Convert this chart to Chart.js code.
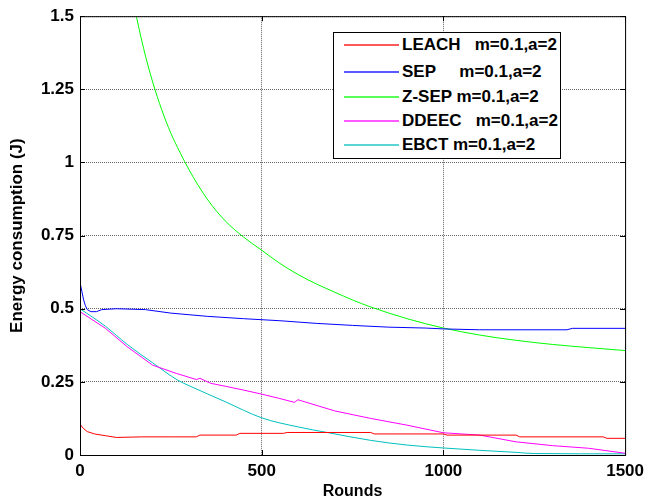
<!DOCTYPE html>
<html>
<head>
<meta charset="utf-8">
<script src="https://cdn.jsdelivr.net/npm/chart.js@4.4.0/dist/chart.umd.min.js"></script>
<style>
    body { margin: 0; background: #fff; }
    #wrap { position: relative; width: 650px; height: 501px; }
    #customLegend {
        position: absolute; left: 333px; top: 32px; width: 226px; height: 125px;
        border: 1px solid #000; background: #fff;
        font: bold 17px "Liberation Sans", Arial, sans-serif;
    }
    .legend-item { position: absolute; left: 0; width: 100%; height: 20px; }
    .legend-color { position: absolute; left: 10px; top: 9px; width: 55px; height: 2px; opacity: 0.65; }
    .legend-text { position: absolute; left: 68px; top: 0; line-height: 20px; white-space: pre; color: #000; }
</style>
</head>
<body>
<div id="wrap">
    <canvas id="energyChart" width="650" height="501"></canvas>
    <div id="customLegend"></div>
</div>
<script>
// Axes
const xTicks = [0, 500, 1000, 1500];
const xTickLabels = ['0', '500', '1000', '1500'];
const yTicks = [0, 0.25, 0.5, 0.75, 1, 1.25, 1.5];
const yTickLabels = ['0', '0.25', '0.5', '0.75', '1', '1.25', '1.5'];

// Series
const leachRounds = [0, 10, 20, 40, 70, 100, 170, 250, 320, 330, 430, 440, 560, 570, 800, 810, 1000, 1010, 1200, 1210, 1440, 1450, 1500];
const leachEnergy = [0.105, 0.09, 0.08, 0.072, 0.066, 0.06, 0.062, 0.062, 0.062, 0.068, 0.068, 0.074, 0.074, 0.077, 0.077, 0.072, 0.072, 0.068, 0.068, 0.062, 0.062, 0.057, 0.057];

const sepRounds = [0, 5, 10, 15, 20, 30, 45, 60, 100, 180, 250, 350, 450, 550, 650, 750, 850, 950, 1000, 1100, 1340, 1355, 1500];
const sepEnergy = [0.59, 0.56, 0.53, 0.51, 0.497, 0.49, 0.49, 0.497, 0.5, 0.497, 0.485, 0.474, 0.466, 0.459, 0.45, 0.443, 0.437, 0.434, 0.431, 0.428, 0.428, 0.433, 0.433];

const zsepRounds = [0, 25, 50, 75, 100, 125, 150, 175, 200, 225, 250, 275, 300, 350, 400, 450, 500, 550, 600, 650, 700, 750, 800, 900, 1000, 1100, 1200, 1300, 1400, 1500];
const zsepEnergy = [3.2, 2.7, 2.33, 2.08, 1.87, 1.69, 1.53, 1.39, 1.275, 1.18, 1.1, 1.035, 0.975, 0.875, 0.8, 0.745, 0.7, 0.655, 0.617, 0.585, 0.557, 0.53, 0.506, 0.466, 0.434, 0.41, 0.392, 0.378, 0.367, 0.357];

const ddeecRounds = [0, 70, 130, 200, 265, 320, 330, 360, 400, 450, 500, 550, 590, 600, 610, 700, 800, 900, 1000, 1100, 1200, 1300, 1400, 1500];
const ddeecEnergy = [0.49, 0.433, 0.37, 0.307, 0.279, 0.258, 0.262, 0.245, 0.235, 0.222, 0.208, 0.193, 0.18, 0.189, 0.185, 0.151, 0.125, 0.102, 0.076, 0.068, 0.045, 0.032, 0.023, 0.006];

const ebctRounds = [0, 70, 130, 200, 270, 300, 400, 500, 600, 680, 800, 900, 1000, 1100, 1200, 1250, 1500];
const ebctEnergy = [0.5, 0.44, 0.378, 0.315, 0.255, 0.237, 0.182, 0.127, 0.096, 0.077, 0.05, 0.034, 0.024, 0.016, 0.009, 0.005, 0.004];

const seriesNames = ['LEACH   m=0.1,a=2', 'SEP     m=0.1,a=2', 'Z-SEP m=0.1,a=2', 'DDEEC   m=0.1,a=2', 'EBCT m=0.1,a=2'];
const seriesColors = ['#ff0000', '#0000ff', '#00ff00', '#ff00ff', '#00bfbf'];

const fontFamily = '"Liberation Sans", Arial, sans-serif';

function toPoints(rounds, energy) {
    return rounds.map((r, i) => ({ x: r, y: energy[i] }));
}

const allSeries = [
    toPoints(leachRounds, leachEnergy),
    toPoints(sepRounds, sepEnergy),
    toPoints(zsepRounds, zsepEnergy),
    toPoints(ddeecRounds, ddeecEnergy),
    toPoints(ebctRounds, ebctEnergy)
];
const smooth = [false, false, true, false, true];

// cadre noir + petites graduations intérieures, façon MATLAB
const axesBox = {
    id: 'axesBox',
    afterDraw(chart) {
        const { ctx, chartArea: a, scales } = chart;
        ctx.save();
        ctx.strokeStyle = '#000';
        ctx.lineWidth = 1;
        ctx.strokeRect(a.left + 0.5, a.top + 0.5, a.right - a.left, a.bottom - a.top);
        ctx.beginPath();
        xTicks.forEach(v => {
            const x = Math.round(scales.x.getPixelForValue(v)) + 0.5;
            ctx.moveTo(x, a.bottom); ctx.lineTo(x, a.bottom - 5);
            ctx.moveTo(x, a.top); ctx.lineTo(x, a.top + 5);
        });
        yTicks.forEach(v => {
            const y = Math.round(scales.y.getPixelForValue(v)) + 0.5;
            ctx.moveTo(a.left, y); ctx.lineTo(a.left + 5, y);
            ctx.moveTo(a.right, y); ctx.lineTo(a.right - 5, y);
        });
        ctx.stroke();
        ctx.restore();
    }
};

const ctx = document.getElementById('energyChart').getContext('2d');
const energyChart = new Chart(ctx, {
    type: 'line',
    data: {
        datasets: allSeries.map((pts, i) => ({
            label: seriesNames[i],
            data: pts,
            borderColor: seriesColors[i],
            backgroundColor: seriesColors[i],
            borderWidth: 1,
            pointRadius: 0,
            fill: false,
            tension: 0,
            cubicInterpolationMode: smooth[i] ? 'monotone' : 'default'
        }))
    },
    options: {
        responsive: false,
        animation: false,
        layout: { padding: { top: 15, right: 20, left: 0, bottom: 0 } },
        plugins: {
            legend: { display: false },
            tooltip: { enabled: false }
        },
        scales: {
            x: {
                type: 'linear',
                min: 0,
                max: 1500,
                afterBuildTicks: s => { s.ticks = xTicks.map(v => ({ value: v })); },
                afterFit: s => { s.height = 46; },
                grid: { color: '#666', drawTicks: false },
                border: { display: false, dash: [1, 1] },
                ticks: {
                    color: '#000',
                    padding: 6,
                    maxRotation: 0,
                    font: { family: fontFamily, size: 17, weight: 'bold' },
                    callback: (v, i) => xTickLabels[i]
                },
                title: {
                    display: true,
                    text: 'Rounds',
                    color: '#000',
                    padding: { top: 0, bottom: 0 },
                    font: { family: fontFamily, size: 16, weight: 'bold' }
                }
            },
            y: {
                min: 0,
                max: 1.5,
                afterBuildTicks: s => { s.ticks = yTicks.map(v => ({ value: v })); },
                afterFit: s => { s.width = 80; },
                grid: { color: '#666', drawTicks: false },
                border: { display: false, dash: [1, 1] },
                ticks: {
                    color: '#000',
                    padding: 6,
                    font: { family: fontFamily, size: 17, weight: 'bold' },
                    callback: (v, i) => yTickLabels[i]
                },
                title: {
                    display: true,
                    text: 'Energy consumption (J)',
                    color: '#000',
                    padding: { top: 7, bottom: 0 },
                    font: { family: fontFamily, size: 17, weight: 'bold' }
                }
            }
        }
    },
    plugins: [axesBox]
});

// Légende personnalisée dans le cadre
function generateCustomLegend(labels, colors) {
    const legendContainer = document.getElementById('customLegend');
    const rowCenters = [12, 39, 64, 88, 112];
    labels.forEach((label, index) => {
        const legendItem = document.createElement('div');
        legendItem.className = 'legend-item';
        legendItem.style.top = (rowCenters[index] - 10) + 'px';

        const colorBox = document.createElement('div');
        colorBox.className = 'legend-color';
        colorBox.style.backgroundColor = colors[index];

        const labelText = document.createElement('span');
        labelText.className = 'legend-text';
        labelText.textContent = label;

        legendItem.appendChild(colorBox);
        legendItem.appendChild(labelText);
        legendContainer.appendChild(legendItem);
    });
}
generateCustomLegend(seriesNames, seriesColors);
</script>
</body>
</html>
